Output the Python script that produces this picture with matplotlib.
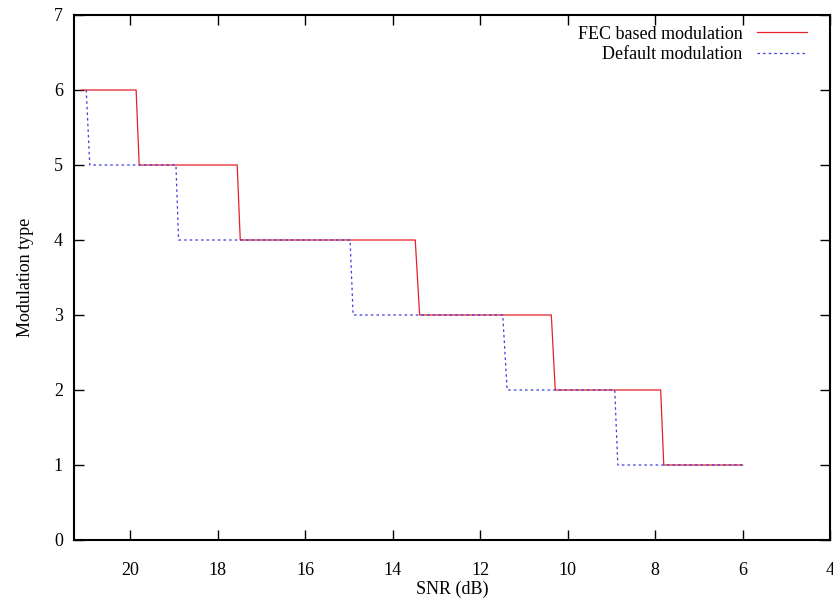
import matplotlib
matplotlib.use("Agg")
import matplotlib.pyplot as plt

# FEC based modulation (step curve points: SNR dB, modulation type)
fec_snr = [21.1, 19.86, 19.79, 17.55, 17.48, 13.48, 13.38, 10.37, 10.28, 7.87, 7.80, 6.0]
fec_mod = [6, 6, 5, 5, 4, 4, 3, 3, 2, 2, 1, 1]

# Default modulation
def_snr = [21.0, 20.92, 18.95, 18.89, 14.97, 14.9, 11.48, 11.38, 8.92, 8.85, 6.0]
def_mod = [6, 5, 5, 4, 4, 3, 3, 2, 2, 1, 1]

x_ticks = [20, 18, 16, 14, 12, 10, 8, 6, 4]
y_ticks = [0, 1, 2, 3, 4, 5, 6, 7]

plt.rcParams['font.family'] = ['Liberation Serif', 'DejaVu Serif']

fig = plt.figure(figsize=(8.33, 5.99), dpi=100)
ax = fig.add_axes([74/833, 1 - 540/599, (830-74)/833, (540-15)/599])

ax.plot(fec_snr, fec_mod, color='#e8202a', lw=0.9, label='FEC based modulation')
ax.plot(def_snr, def_mod, color='#3a3ae0', lw=0.9, linestyle=(0, (2, 2.5)), label='Default modulation')

ax.set_xlim(21.28, 4)
ax.set_ylim(0, 7)
ax.set_xticks(x_ticks)
ax.set_yticks(y_ticks)
ax.tick_params(direction='in', length=7, width=1, top=True, right=True, labelsize=13)
ax.tick_params(axis='x', pad=16)
ax.tick_params(axis='y', pad=8)
for s in ax.spines.values():
    s.set_linewidth(1.5)

ax.set_xlabel('SNR (dB)', fontsize=13, labelpad=1)
ax.set_ylabel('Modulation type', fontsize=13, labelpad=14)

leg = ax.legend(loc='upper right', frameon=False, markerfirst=False, fontsize=13,
                handlelength=2.8, borderaxespad=0.3, labelspacing=0.2, handletextpad=0.8,
                bbox_to_anchor=(1 - 10/756, 1 + 2/525))

fig.savefig('out.png', dpi=100)
